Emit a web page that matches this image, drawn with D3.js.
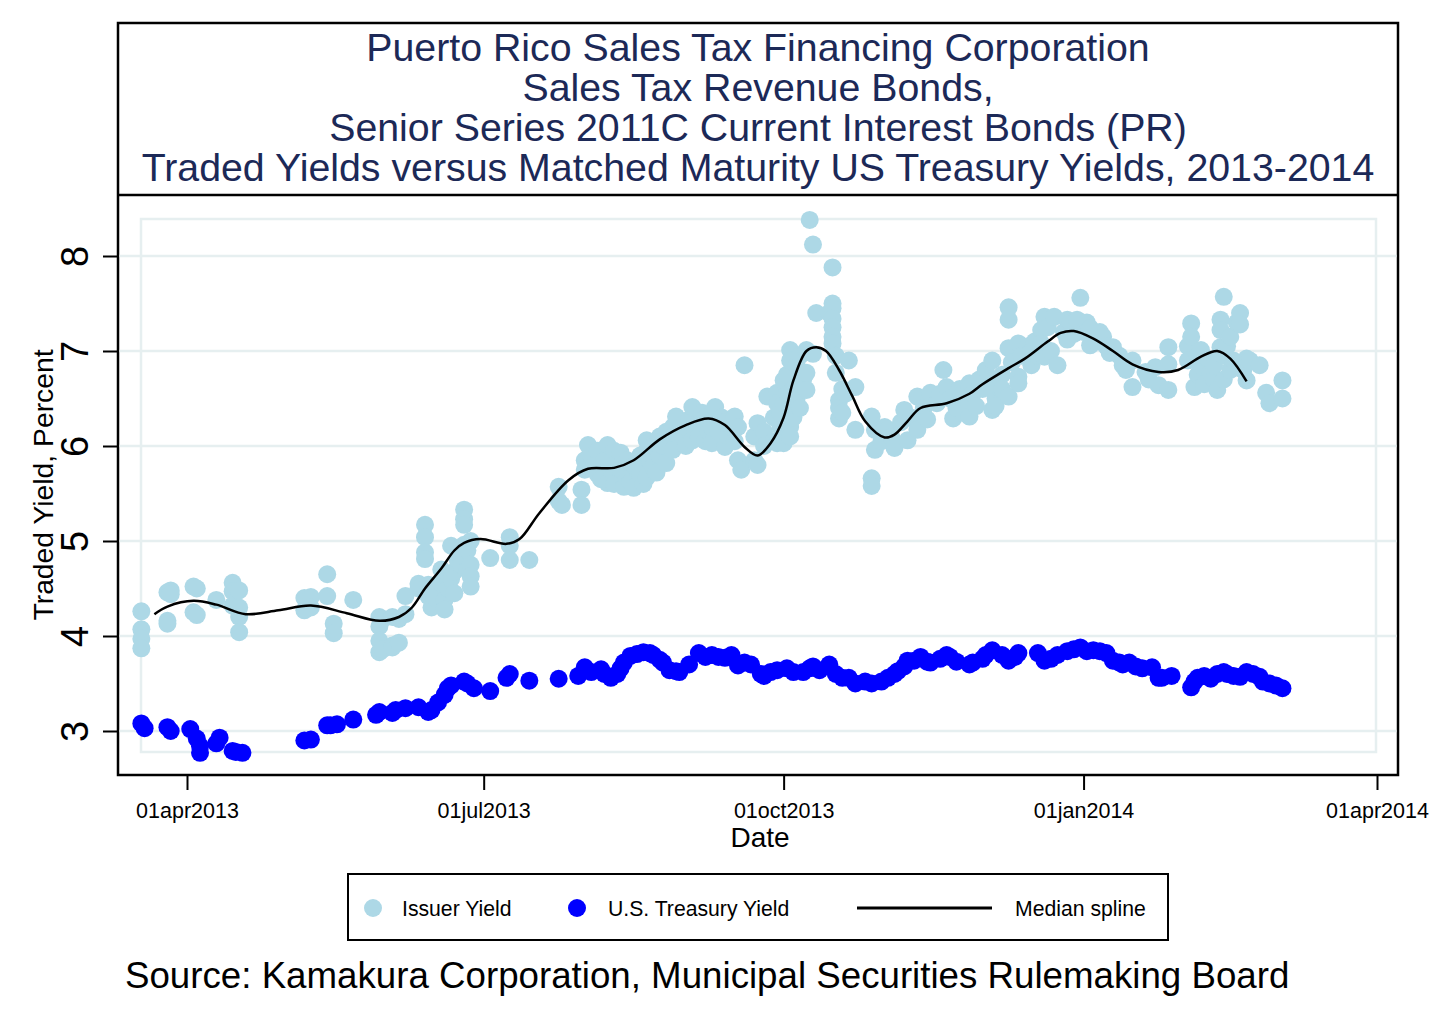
<!DOCTYPE html>
<html><head><meta charset="utf-8">
<script src="https://cdn.jsdelivr.net/npm/d3@7"></script>
<style>
body{margin:0;background:#fff}
svg{display:block}
text{font-family:"Liberation Sans",Arial,sans-serif}
</style>
</head><body>
<svg id="chart" width="1432" height="1018"></svg>
<script>
const titleLines = [
  "Puerto Rico Sales Tax Financing Corporation",
  "Sales Tax Revenue Bonds,",
  "Senior Series 2011C Current Interest Bonds (PR)",
  "Traded Yields versus Matched Maturity US Treasury Yields, 2013-2014"
];
const yTicks = [3, 4, 5, 6, 7, 8];
const xTickDates = ["2013-04-01", "2013-07-01", "2013-10-01", "2014-01-01", "2014-04-01"];
const xTickLabels = ["01apr2013", "01jul2013", "01oct2013", "01jan2014", "01apr2014"];
const yTitle = "Traded Yield, Percent";
const xTitle = "Date";
const legendLabels = ["Issuer Yield", "U.S. Treasury Yield", "Median spline"];
const sourceNote = "Source: Kamakura Corporation, Municipal Securities Rulemaking Board";

const issuerYield = [
["2013-03-18",4.26],["2013-03-18",4.07],["2013-03-18",3.97],["2013-03-18",3.87],
["2013-03-26",4.46],["2013-03-26",4.16],["2013-03-26",4.13],["2013-03-27",4.48],["2013-03-27",4.44],
["2013-04-03",4.52],["2013-04-03",4.25],["2013-04-04",4.50],["2013-04-04",4.22],
["2013-04-10",4.38],
["2013-04-15",4.56],["2013-04-15",4.47],["2013-04-15",4.32],
["2013-04-17",4.48],["2013-04-17",4.30],["2013-04-17",4.20],["2013-04-17",4.04],
["2013-05-07",4.40],["2013-05-07",4.27],["2013-05-09",4.41],["2013-05-09",4.30],
["2013-05-14",4.65],["2013-05-14",4.42],["2013-05-16",4.13],["2013-05-16",4.03],
["2013-05-22",4.38],
["2013-05-30",4.20],["2013-05-30",4.10],["2013-05-30",3.95],["2013-05-30",3.83],
["2013-05-31",4.18],["2013-05-31",3.86],
["2013-06-03",4.20],["2013-06-03",3.90],["2013-06-03",3.88],
["2013-06-05",4.18],["2013-06-05",3.93],
["2013-06-07",4.42],["2013-06-07",4.23],
["2013-06-11",4.55],["2013-06-11",4.50],
["2013-06-13",5.17],["2013-06-13",5.04],["2013-06-13",4.88],["2013-06-13",4.81],
["2013-06-14",4.54],["2013-06-14",4.42],["2013-06-15",4.50],["2013-06-15",4.30],
["2013-06-16",4.40],["2013-06-18",4.55],["2013-06-18",4.70],
["2013-06-19",4.38],["2013-06-19",4.28],["2013-06-20",4.50],
["2013-06-21",4.95],["2013-06-21",4.63],["2013-06-21",4.60],
["2013-06-22",4.68],["2013-06-22",4.45],["2013-06-23",4.80],
["2013-06-24",4.93],["2013-06-24",4.75],
["2013-06-25",5.33],["2013-06-25",5.23],["2013-06-25",5.17],["2013-06-25",4.96],["2013-06-25",4.84],
["2013-06-26",4.90],["2013-06-26",4.70],
["2013-06-27",5.00],["2013-06-27",4.75],["2013-06-27",4.63],["2013-06-27",4.52],
["2013-07-03",4.82],
["2013-07-09",5.04],["2013-07-09",4.95],["2013-07-09",4.80],
["2013-07-15",4.80],
["2013-07-24",5.57],["2013-07-24",5.42],["2013-07-25",5.38],
["2013-07-31",5.54],["2013-07-31",5.38],
["2013-08-01",5.85],["2013-08-01",5.75],["2013-08-02",6.01],["2013-08-03",5.90],
["2013-08-04",5.80],["2013-08-05",5.95],["2013-08-05",5.70],["2013-08-06",5.65],
["2013-08-07",5.85],["2013-08-08",6.01],["2013-08-08",5.61],["2013-08-09",5.75],
["2013-08-10",5.95],["2013-08-10",5.70],["2013-08-10",5.60],["2013-08-11",5.82],
["2013-08-12",5.93],["2013-08-12",5.75],["2013-08-13",5.57],
["2013-08-14",5.85],["2013-08-14",5.65],["2013-08-15",5.62],["2013-08-16",5.56],["2013-08-16",5.80],
["2013-08-17",5.75],["2013-08-18",5.70],["2013-08-18",5.90],["2013-08-19",5.60],
["2013-08-20",6.06],["2013-08-20",5.95],["2013-08-20",5.67],["2013-08-21",5.85],
["2013-08-22",6.00],["2013-08-22",5.78],["2013-08-23",5.72],["2013-08-24",6.10],["2013-08-24",5.90],
["2013-08-25",6.00],["2013-08-26",6.15],["2013-08-26",5.82],["2013-08-27",6.05],
["2013-08-28",6.20],["2013-08-28",5.96],
["2013-08-29",6.31],["2013-08-29",6.13],["2013-08-31",6.10],
["2013-09-01",6.20],["2013-09-01",6.00],["2013-09-02",6.28],["2013-09-03",6.41],["2013-09-03",6.06],
["2013-09-04",6.15],["2013-09-05",6.25],["2013-09-05",6.10],["2013-09-06",6.35],
["2013-09-07",6.30],["2013-09-07",6.05],["2013-09-08",6.15],
["2013-09-09",6.20],["2013-09-09",6.03],["2013-09-10",6.41],["2013-09-10",6.25],["2013-09-11",6.15],
["2013-09-12",6.30],["2013-09-13",6.25],["2013-09-13",5.99],["2013-09-14",6.10],["2013-09-15",6.20],
["2013-09-16",6.31],["2013-09-16",6.05],["2013-09-17",6.20],["2013-09-17",5.85],["2013-09-18",5.75],
["2013-09-19",6.85],
["2013-09-22",6.10],["2013-09-22",5.85],["2013-09-23",6.24],["2013-09-23",5.80],
["2013-09-25",6.15],["2013-09-25",6.00],["2013-09-26",6.52],
["2013-09-28",6.30],["2013-09-28",6.05],
["2013-09-29",6.56],["2013-09-29",6.45],["2013-09-29",6.03],
["2013-09-30",6.35],["2013-09-30",6.20],
["2013-10-01",6.69],["2013-10-01",6.45],["2013-10-01",6.03],
["2013-10-02",6.55],["2013-10-02",6.75],
["2013-10-03",7.01],["2013-10-03",6.90],["2013-10-03",6.45],["2013-10-03",6.30],["2013-10-03",6.20],["2013-10-03",6.10],
["2013-10-04",6.60],["2013-10-04",6.30],["2013-10-05",6.85],["2013-10-05",6.50],
["2013-10-06",6.95],["2013-10-06",6.40],["2013-10-07",6.70],
["2013-10-08",7.01],["2013-10-08",6.77],["2013-10-08",6.59],
["2013-10-09",8.38],["2013-10-10",8.12],["2013-10-10",6.97],["2013-10-11",7.40],
["2013-10-15",7.40],
["2013-10-16",7.88],["2013-10-16",7.50],["2013-10-16",7.45],["2013-10-16",7.34],["2013-10-16",7.25],["2013-10-16",7.15],["2013-10-16",7.08],
["2013-10-17",6.77],["2013-10-17",6.95],["2013-10-18",6.48],["2013-10-18",6.40],["2013-10-18",6.29],
["2013-10-19",6.60],["2013-10-19",6.35],["2013-10-20",6.55],
["2013-10-21",6.90],["2013-10-23",6.62],["2013-10-23",6.17],
["2013-10-28",6.31],["2013-10-28",5.66],["2013-10-28",5.58],
["2013-10-29",6.17],["2013-10-29",5.96],["2013-10-31",6.05],
["2013-11-01",6.20],["2013-11-02",6.17],["2013-11-03",6.10],["2013-11-04",5.98],
["2013-11-06",6.25],["2013-11-07",6.38],["2013-11-08",6.06],["2013-11-09",6.30],
["2013-11-11",6.52],["2013-11-11",6.17],["2013-11-13",6.40],["2013-11-14",6.28],["2013-11-15",6.56],
["2013-11-17",6.45],["2013-11-18",6.55],
["2013-11-19",6.80],["2013-11-20",6.62],["2013-11-21",6.50],["2013-11-22",6.29],
["2013-11-23",6.40],["2013-11-24",6.60],
["2013-11-25",6.55],["2013-11-25",6.35],
["2013-11-27",6.66],["2013-11-27",6.62],["2013-11-27",6.50],["2013-11-27",6.45],["2013-11-27",6.31],
["2013-11-28",6.55],["2013-11-29",6.42],["2013-11-30",6.70],
["2013-12-01",6.60],["2013-12-02",6.80],["2013-12-03",6.70],["2013-12-04",6.90],["2013-12-04",6.38],
["2013-12-05",6.50],["2013-12-05",6.42],["2013-12-06",6.62],["2013-12-07",6.75],["2013-12-07",6.60],
["2013-12-09",7.46],["2013-12-09",7.33],["2013-12-09",7.03],["2013-12-09",6.52],
["2013-12-10",6.88],
["2013-12-12",7.08],["2013-12-12",6.73],["2013-12-12",6.66],
["2013-12-13",6.95],["2013-12-15",7.05],
["2013-12-16",7.00],["2013-12-16",6.85],["2013-12-17",7.10],["2013-12-18",6.95],
["2013-12-19",7.22],["2013-12-19",7.08],["2013-12-20",7.36],["2013-12-20",6.94],
["2013-12-21",7.25],["2013-12-22",7.00],
["2013-12-23",7.36],["2013-12-24",6.85],["2013-12-26",7.20],
["2013-12-27",7.33],["2013-12-27",7.12],["2013-12-28",7.30],["2013-12-29",7.18],
["2013-12-30",7.33],["2013-12-31",7.56],
["2014-01-01",7.20],["2014-01-02",7.30],
["2014-01-03",7.24],["2014-01-03",7.06],["2014-01-05",7.10],["2014-01-06",7.20],
["2014-01-07",7.15],["2014-01-08",7.05],["2014-01-09",6.98],["2014-01-10",7.04],
["2014-01-12",6.95],["2014-01-13",6.85],["2014-01-14",6.80],
["2014-01-16",6.90],["2014-01-16",6.62],
["2014-01-20",6.78],["2014-01-21",6.70],
["2014-01-23",6.83],["2014-01-24",6.64],
["2014-01-27",7.04],["2014-01-27",6.86],["2014-01-27",6.59],
["2014-02-02",7.05],["2014-02-02",6.90],
["2014-02-03",7.29],["2014-02-03",7.15],["2014-02-04",6.62],
["2014-02-05",6.75],["2014-02-05",6.95],
["2014-02-06",7.01],["2014-02-06",6.84],["2014-02-07",6.65],["2014-02-08",6.92],
["2014-02-09",6.77],["2014-02-10",6.70],["2014-02-10",6.85],["2014-02-11",6.59],
["2014-02-12",7.33],["2014-02-12",7.22],["2014-02-12",7.04],["2014-02-13",7.57],
["2014-02-13",6.70],["2014-02-13",6.95],["2014-02-14",7.05],
["2014-02-15",6.80],["2014-02-15",7.15],["2014-02-16",6.90],["2014-02-17",7.30],
["2014-02-18",7.40],["2014-02-18",7.28],["2014-02-19",6.80],
["2014-02-20",6.92],["2014-02-20",6.69],["2014-02-21",6.90],["2014-02-24",6.85],
["2014-02-26",6.56],["2014-02-27",6.45],
["2014-03-03",6.69],["2014-03-03",6.50]
];

const treasuryYield = [
["2013-03-18",3.08],["2013-03-19",3.03],["2013-03-26",3.04],["2013-03-27",3.00],
["2013-04-02",3.02],["2013-04-04",2.92],["2013-04-05",2.84],["2013-04-05",2.77],
["2013-04-10",2.87],["2013-04-11",2.93],
["2013-04-15",2.79],["2013-04-16",2.78],["2013-04-18",2.77],
["2013-05-07",2.90],["2013-05-09",2.91],
["2013-05-14",3.06],["2013-05-15",3.06],["2013-05-17",3.07],["2013-05-22",3.12],
["2013-05-29",3.17],["2013-05-30",3.20],["2013-06-03",3.19],["2013-06-04",3.22],
["2013-06-07",3.24],["2013-06-11",3.25],["2013-06-14",3.20],["2013-06-15",3.22],
["2013-06-17",3.30],["2013-06-19",3.38],["2013-06-20",3.45],["2013-06-21",3.48],
["2013-06-25",3.52],["2013-06-26",3.50],["2013-06-28",3.45],["2013-07-03",3.42],
["2013-07-08",3.56],["2013-07-09",3.60],["2013-07-15",3.53],
["2013-07-24",3.55],["2013-07-30",3.58],["2013-08-01",3.67],["2013-08-03",3.62],
["2013-08-06",3.65],["2013-08-07",3.60],["2013-08-09",3.56],["2013-08-11",3.60],
["2013-08-12",3.66],["2013-08-13",3.72],["2013-08-15",3.79],["2013-08-17",3.81],
["2013-08-19",3.83],["2013-08-21",3.82],["2013-08-22",3.80],["2013-08-24",3.75],
["2013-08-25",3.72],["2013-08-27",3.64],["2013-08-29",3.63],["2013-08-30",3.62],
["2013-09-02",3.70],["2013-09-05",3.82],["2013-09-07",3.78],["2013-09-09",3.80],
["2013-09-11",3.78],["2013-09-13",3.77],["2013-09-15",3.80],["2013-09-17",3.69],
["2013-09-19",3.72],["2013-09-21",3.70],["2013-09-24",3.60],["2013-09-25",3.58],
["2013-09-27",3.62],["2013-09-29",3.64],["2013-10-02",3.66],["2013-10-04",3.62],
["2013-10-07",3.62],["2013-10-09",3.66],["2013-10-10",3.68],["2013-10-12",3.64],
["2013-10-15",3.70],["2013-10-17",3.60],["2013-10-19",3.56],["2013-10-21",3.56],
["2013-10-23",3.50],["2013-10-26",3.52],["2013-10-28",3.50],["2013-10-31",3.52],
["2013-11-02",3.56],["2013-11-04",3.60],["2013-11-05",3.63],["2013-11-07",3.68],
["2013-11-08",3.74],["2013-11-10",3.74],["2013-11-12",3.78],["2013-11-14",3.73],
["2013-11-15",3.72],["2013-11-18",3.76],["2013-11-20",3.80],["2013-11-21",3.78],
["2013-11-23",3.73],["2013-11-27",3.70],["2013-11-28",3.72],["2013-12-01",3.76],
["2013-12-02",3.80],["2013-12-04",3.85],["2013-12-07",3.80],["2013-12-09",3.74],
["2013-12-11",3.78],["2013-12-12",3.82],["2013-12-18",3.82],["2013-12-20",3.74],
["2013-12-22",3.76],["2013-12-24",3.80],["2013-12-27",3.84],["2013-12-29",3.86],
["2013-12-31",3.88],["2014-01-02",3.84],["2014-01-04",3.85],["2014-01-06",3.84],
["2014-01-08",3.82],["2014-01-10",3.74],["2014-01-12",3.72],["2014-01-13",3.70],
["2014-01-15",3.72],["2014-01-17",3.68],["2014-01-19",3.66],["2014-01-22",3.67],
["2014-01-24",3.56],["2014-01-25",3.56],["2014-01-28",3.58],
["2014-02-03",3.46],["2014-02-04",3.52],["2014-02-05",3.56],["2014-02-07",3.58],
["2014-02-09",3.55],["2014-02-11",3.60],["2014-02-13",3.62],["2014-02-14",3.60],
["2014-02-16",3.58],["2014-02-18",3.57],["2014-02-20",3.62],["2014-02-22",3.60],
["2014-02-24",3.57],["2014-02-25",3.52],["2014-02-27",3.50],["2014-03-01",3.48],
["2014-03-03",3.45]
];

const medianSpline = [
["2013-03-22",4.23],["2013-03-26",4.31],["2013-04-03",4.37],["2013-04-10",4.33],
["2013-04-19",4.23],["2013-04-29",4.27],["2013-05-09",4.32],["2013-05-20",4.24],
["2013-05-30",4.16],["2013-06-05",4.20],["2013-06-09",4.30],["2013-06-13",4.50],
["2013-06-18",4.71],["2013-06-22",4.90],["2013-06-25",4.98],["2013-06-30",5.02],
["2013-07-08",4.97],["2013-07-12",5.02],["2013-07-18",5.29],["2013-07-27",5.64],
["2013-08-02",5.76],["2013-08-10",5.77],["2013-08-16",5.85],["2013-08-24",6.07],
["2013-09-01",6.22],["2013-09-08",6.29],["2013-09-13",6.22],["2013-09-19",5.99],
["2013-09-23",5.90],["2013-09-27",6.03],["2013-10-01",6.30],["2013-10-04",6.69],
["2013-10-08",7.00],["2013-10-11",7.04],["2013-10-14",7.00],["2013-10-18",6.80],
["2013-10-22",6.53],["2013-10-26",6.26],["2013-11-01",6.09],["2013-11-04",6.12],
["2013-11-08",6.26],["2013-11-12",6.40],["2013-11-20",6.45],["2013-11-27",6.55],
["2013-12-01",6.65],["2013-12-09",6.82],["2013-12-14",6.92],["2013-12-21",7.10],
["2013-12-25",7.19],["2013-12-29",7.21],["2014-01-04",7.13],["2014-01-10",7.00],
["2014-01-16",6.86],["2014-01-24",6.78],["2014-01-30",6.80],["2014-02-06",6.94],
["2014-02-11",7.00],["2014-02-15",6.92],["2014-02-20",6.68]
];

const parse = d3.timeParse("%Y-%m-%d");
const svg = d3.select("#chart");
const navy = "#1c2957";
const lightBlue = "#add8e6";
const darkBlue = "#0000ff";
const gridColor = "#e6eff0";

const x = d3.scaleTime()
  .domain([parse("2013-04-01"), parse("2014-04-01")])
  .range([187, 1377]);
const y = d3.scaleLinear().domain([3, 8]).range([731, 256]);

// outer frame and title box
svg.append("rect").attr("x", 118).attr("y", 23).attr("width", 1280).attr("height", 752)
  .attr("fill", "none").attr("stroke", "#000").attr("stroke-width", 2.5);
svg.append("line").attr("x1", 118).attr("x2", 1398).attr("y1", 195).attr("y2", 195)
  .attr("stroke", "#000").attr("stroke-width", 2.5);

svg.append("g").selectAll("text").data(titleLines).join("text")
  .attr("x", 758).attr("y", (d, i) => 61 + i * 40)
  .attr("text-anchor", "middle").attr("font-size", 39.3).attr("fill", navy)
  .text(d => d);

// gridlines
svg.append("g").selectAll("line").data(yTicks).join("line")
  .attr("x1", 119.5).attr("x2", 1396.5)
  .attr("y1", d => y(d)).attr("y2", d => y(d))
  .attr("stroke", gridColor).attr("stroke-width", 2.5);

// inner plot region border
svg.append("rect").attr("x", 141).attr("y", 219).attr("width", 1235).attr("height", 533)
  .attr("fill", "none").attr("stroke", gridColor).attr("stroke-width", 2.5);

// y axis
const yAxis = svg.append("g").attr("transform", "translate(118,0)")
  .call(d3.axisLeft(y).tickValues(yTicks).tickSize(15).tickFormat(d3.format("d")));
yAxis.select(".domain").remove();
yAxis.selectAll(".tick line").attr("stroke", "#000").attr("stroke-width", 2);
yAxis.selectAll(".tick text")
  .attr("x", null).attr("dy", null)
  .attr("transform", "translate(-30,0) rotate(-90)")
  .attr("text-anchor", "middle").attr("font-size", 38).attr("fill", "#000")
  .attr("font-family", "Liberation Sans, Arial, sans-serif");

// x axis
const labelByDate = new Map(xTickDates.map((d, i) => [+parse(d), xTickLabels[i]]));
const xAxis = svg.append("g").attr("transform", "translate(0,775)")
  .call(d3.axisBottom(x).tickValues(xTickDates.map(parse)).tickSize(15)
    .tickFormat(d => labelByDate.get(+d)));
xAxis.select(".domain").remove();
xAxis.selectAll(".tick line").attr("stroke", "#000").attr("stroke-width", 2);
xAxis.selectAll(".tick text")
  .attr("y", 43).attr("dy", null)
  .attr("font-size", 21.5).attr("fill", "#000")
  .attr("font-family", "Liberation Sans, Arial, sans-serif");

// axis titles
svg.append("text").attr("transform", "translate(53,485) rotate(-90)")
  .attr("text-anchor", "middle").attr("font-size", 28.3).attr("fill", "#000").text(yTitle);
svg.append("text").attr("x", 760).attr("y", 847)
  .attr("text-anchor", "middle").attr("font-size", 28).attr("fill", "#000").text(xTitle);

// data
const plot = svg.append("g");
plot.append("g").selectAll("circle").data(issuerYield).join("circle")
  .attr("cx", d => x(parse(d[0]))).attr("cy", d => y(d[1])).attr("r", 9)
  .attr("fill", lightBlue);
plot.append("g").selectAll("circle").data(treasuryYield).join("circle")
  .attr("cx", d => x(parse(d[0]))).attr("cy", d => y(d[1])).attr("r", 9)
  .attr("fill", darkBlue);
const line = d3.line()
  .x(d => x(parse(d[0]))).y(d => y(d[1]))
  .curve(d3.curveCatmullRom.alpha(0.5));
plot.append("path").datum(medianSpline).attr("d", line)
  .attr("fill", "none").attr("stroke", "#000").attr("stroke-width", 2.5);

// legend
const lg = svg.append("g");
lg.append("rect").attr("x", 348).attr("y", 874).attr("width", 820).attr("height", 66)
  .attr("fill", "#fff").attr("stroke", "#000").attr("stroke-width", 2);
lg.append("circle").attr("cx", 373).attr("cy", 908).attr("r", 9).attr("fill", lightBlue);
lg.append("circle").attr("cx", 577).attr("cy", 908).attr("r", 9).attr("fill", darkBlue);
lg.append("line").attr("x1", 857).attr("x2", 992).attr("y1", 908).attr("y2", 908)
  .attr("stroke", "#000").attr("stroke-width", 3);
lg.selectAll("text.lab").data(legendLabels).join("text").attr("class", "lab")
  .attr("x", (d, i) => [402, 608, 1015][i]).attr("y", 916)
  .attr("font-size", 21.2).attr("fill", "#000").text(d => d);

// source note
svg.append("text").attr("x", 125).attr("y", 988)
  .attr("font-size", 36.7).attr("fill", "#000").text(sourceNote);
</script>
</body></html>
